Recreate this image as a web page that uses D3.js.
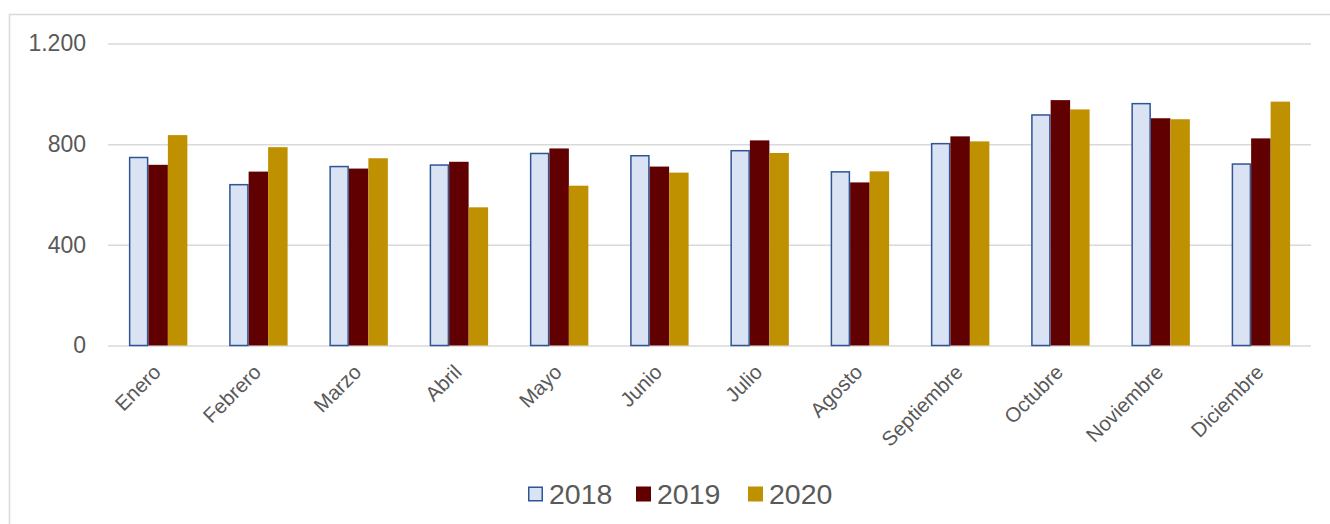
<!DOCTYPE html>
<html>
<head>
<meta charset="utf-8">
<script src="https://cdn.jsdelivr.net/npm/d3@7"></script>
<style>
  html, body { margin: 0; padding: 0; background: #fff; }
  svg { display: block; font-family: "Liberation Sans", Arial, sans-serif; }
</style>
</head>
<body>
<svg id="chart" width="1330" height="524"></svg>
<script>
const months = ["Enero","Febrero","Marzo","Abril","Mayo","Junio","Julio","Agosto","Septiembre","Octubre","Noviembre","Diciembre"];
const years = ["2018","2019","2020"];
const values2018 = [750, 642, 714, 720, 766, 757, 777, 693, 805, 919, 964, 724];
const values2019 = [718, 691, 703, 730, 783, 711, 815, 648, 831, 975, 903, 823];
const values2020 = [836, 788, 744, 549, 635, 687, 765, 692, 811, 938, 899, 969];
const yTicks = [0, 400, 800, 1200];

const seriesValues = { "2018": values2018, "2019": values2019, "2020": values2020 };
const fills = { "2018": "#DAE3F3", "2019": "#600000", "2020": "#BF9000" };
const strokes = { "2018": "#2F5597", "2019": "none", "2020": "none" };

const svg = d3.select("#chart");
const W = 1330, H = 524;

// chart border
svg.append("rect")
  .attr("x", 9.5).attr("y", 14.5)
  .attr("width", W).attr("height", H)
  .attr("fill", "none").attr("stroke", "#D9D9D9").attr("stroke-width", 1.5);

const x0 = d3.scaleBand().domain(months).range([108, 1311]).paddingInner(0.417).paddingOuter(0.2085);
const x1 = d3.scaleBand().domain(years).range([0, x0.bandwidth()]);
const y = d3.scaleLinear().domain([0, 1200]).range([345.5, 43.5]);

const loc = d3.formatLocale({decimal: ",", thousands: ".", grouping: [3], currency: ["", "€"]});
const fmt = loc.format(",");

// gridlines
const yAxis = d3.axisLeft(y).tickValues(yTicks).tickSize(-(1311 - 108)).tickFormat(fmt).tickPadding(22);
const gy = svg.append("g").attr("transform", "translate(108,0)").call(yAxis);
gy.select(".domain").remove();
gy.selectAll(".tick line").attr("stroke", "#D9D9D9").attr("stroke-width", 1.5);
gy.selectAll(".tick text").attr("fill", "#595959").attr("font-size", 23).attr("font-family", "Liberation Sans, Arial, sans-serif");

// bars
const data = [];
months.forEach((m, i) => years.forEach(yr => data.push({ m, yr, v: seriesValues[yr][i] })));

svg.append("g").selectAll("rect").data(data).join("rect")
  .attr("x", d => x0(d.m) + x1(d.yr) + (d.yr === "2018" ? 0.75 : 0))
  .attr("y", d => y(d.v) + (d.yr === "2018" ? 0.75 : 0))
  .attr("width", d => x1.bandwidth() - (d.yr === "2018" ? 1.5 : 0))
  .attr("height", d => y(0) - y(d.v) - (d.yr === "2018" ? 0.75 : 0))
  .attr("fill", d => fills[d.yr])
  .attr("stroke", d => strokes[d.yr])
  .attr("stroke-width", 1.5);

// x axis labels
const xAxis = d3.axisBottom(x0).tickSize(0).tickPadding(0);
const gx = svg.append("g").attr("transform", "translate(0,345.5)").call(xAxis);
gx.select(".domain").remove();
gx.selectAll(".tick text")
  .attr("fill", "#595959")
  .attr("font-size", 20.5)
  .attr("font-family", "Liberation Sans, Arial, sans-serif")
  .attr("text-anchor", "end")
  .attr("dy", null)
  .attr("y", 0)
  .attr("transform", "translate(4,28) rotate(-45)");

// legend
const legendX = [528, 636, 748];
const lg = svg.append("g");
years.forEach((yr, i) => {
  lg.append("rect")
    .attr("x", legendX[i] + (yr === "2018" ? 0.75 : 0))
    .attr("y", 486.5 + (yr === "2018" ? 0.75 : 0))
    .attr("width", 15 - (yr === "2018" ? 1.5 : 0))
    .attr("height", 15 - (yr === "2018" ? 1.5 : 0))
    .attr("fill", fills[yr])
    .attr("stroke", strokes[yr])
    .attr("stroke-width", 1.5);
  lg.append("text")
    .attr("x", legendX[i] + 21)
    .attr("y", 503.5)
    .attr("fill", "#595959")
    .attr("font-size", 28.5)
    .text(yr);
});
</script>
</body>
</html>
